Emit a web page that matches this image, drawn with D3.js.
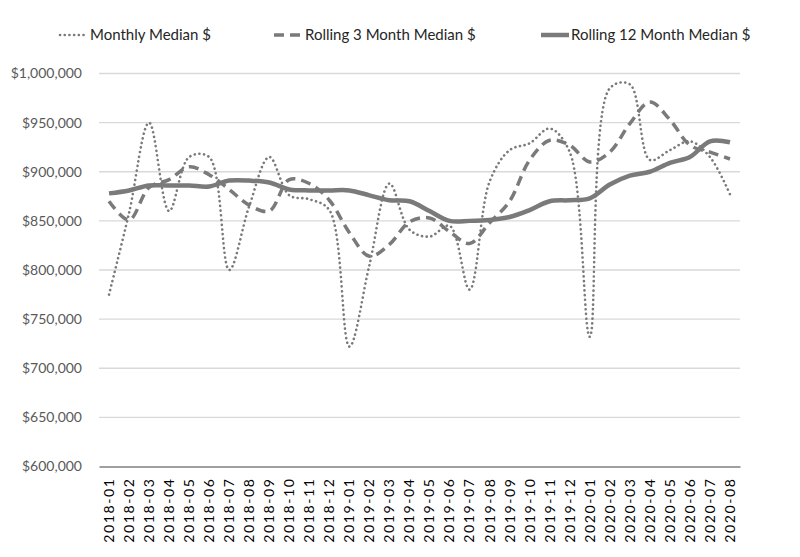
<!DOCTYPE html>
<html>
<head>
<meta charset="utf-8">
<script src="https://cdn.jsdelivr.net/npm/d3@7"></script>
<style>
  body { margin: 0; background: #fff; }
  svg text { font-family: Lato, "Open Sans", sans-serif; }
</style>
</head>
<body>
<div id="viz"></div>
<script>
const months = ["2018-01","2018-02","2018-03","2018-04","2018-05","2018-06","2018-07","2018-08",
  "2018-09","2018-10","2018-11","2018-12","2019-01","2019-02","2019-03","2019-04","2019-05",
  "2019-06","2019-07","2019-08","2019-09","2019-10","2019-11","2019-12","2020-01","2020-02",
  "2020-03","2020-04","2020-05","2020-06","2020-07","2020-08"];

const monthly = [775000, 858000, 950000, 860000, 915000, 915000, 800000, 865000,
  915000, 876000, 872000, 861000, 722000, 805000, 888000, 841000, 834000,
  845000, 780000, 890000, 922000, 929000, 944000, 920000, 732000, 985000,
  989000, 912000, 922000, 931000, 915000, 877000];

const rolling3 = [870000, 851000, 884000, 892000, 905000, 897000, 882000, 866000,
  860000, 892000, 888000, 871000, 838000, 814000, 826000, 849000, 853000,
  839000, 827000, 848000, 870000, 912000, 932000, 927000, 910000, 920000,
  949000, 971000, 953000, 927000, 920000, 913000];

const rolling12 = [878000, 881000, 886000, 886000, 886000, 885000, 891000, 891000,
  889000, 882000, 881000, 881000, 881000, 876000, 871000, 870000, 860000,
  850000, 850000, 851000, 854000, 861000, 870000, 871000, 873000, 887000,
  896000, 900000, 909000, 915000, 931000, 930000];

const yTicks = [600000, 650000, 700000, 750000, 800000, 850000, 900000, 950000, 1000000];

const series = [
  { name: "Monthly Median $", values: monthly, width: 2.6, dash: "0.1,4.6" },
  { name: "Rolling 3 Month Median $", values: rolling3, width: 3.5, dash: "10,6" },
  { name: "Rolling 12 Month Median $", values: rolling12, width: 4.5, dash: null }
];

const W = 800, H = 557;
const margin = { left: 99, right: 60, top: 73.5, bottom: 90.5 };
const innerW = W - margin.left - margin.right;
const innerH = H - margin.top - margin.bottom;
const lineColor = "#7a7a7a";

const svg = d3.select("#viz").append("svg").attr("width", W).attr("height", H);
const g = svg.append("g").attr("transform", `translate(${margin.left},${margin.top})`);

const x = d3.scaleBand().domain(months).range([0, innerW]);
const y = d3.scaleLinear().domain([600000, 1000000]).range([innerH, 0]);

// gridlines
g.selectAll(".grid").data(yTicks.slice(1)).join("line")
  .attr("x1", 0).attr("x2", innerW)
  .attr("y1", d => y(d)).attr("y2", d => y(d))
  .attr("stroke", "#d9d9d9").attr("stroke-width", 1.3);

// y axis labels
const fmt = d3.format("$,");
g.selectAll(".ylab").data(yTicks).join("text")
  .attr("x", -17).attr("y", d => y(d)).attr("dy", "0.35em")
  .attr("text-anchor", "end").attr("fill", "#595959").attr("font-size", 14)
  .text(d => fmt(d));

// x axis
const xAxis = g.append("g").attr("transform", `translate(0,${innerH})`)
  .call(d3.axisBottom(x).tickSize(0).tickPadding(0));
xAxis.select(".domain").attr("stroke", "#7f7f7f").attr("stroke-width", 1.3);
xAxis.selectAll("text")
  .attr("transform", "rotate(-90)")
  .attr("x", -11).attr("y", 0).attr("dy", "0.35em")
  .attr("text-anchor", "end")
  .attr("fill", "#000").attr("font-size", 14)
  .style("font-family", "Lato, sans-serif")
  .style("letter-spacing", "1.6px");

// lines
const line = d3.line()
  .x((d, i) => x(months[i]) + x.bandwidth() / 2)
  .y(d => y(d))
  .curve(d3.curveCatmullRom.alpha(0.5));

g.selectAll(".series").data(series).join("path")
  .attr("d", d => line(d.values))
  .attr("fill", "none")
  .attr("stroke", lineColor)
  .attr("stroke-width", d => d.width)
  .attr("stroke-dasharray", d => d.dash)
  .attr("stroke-linecap", d => d.dash && d.dash.startsWith("0") ? "round" : "butt")
  .attr("stroke-linejoin", "round");

// legend
const legendX = [60, 274, 541];
const leg = svg.append("g").attr("transform", "translate(0,35)");
const items = leg.selectAll("g").data(series).join("g")
  .attr("transform", (d, i) => `translate(${legendX[i]},0)`);
items.append("line")
  .attr("x1", 0).attr("x2", 28).attr("y1", 0).attr("y2", 0)
  .attr("stroke", lineColor)
  .attr("stroke-width", d => d.width)
  .attr("stroke-dasharray", d => d.dash)
  .attr("stroke-linecap", d => d.dash && d.dash.startsWith("0") ? "round" : "butt");
items.append("text")
  .attr("x", (d, i) => i === 1 ? 31 : 30).attr("y", 0).attr("dy", "0.35em")
  .attr("fill", "#262626").attr("font-size", 15)
  .text(d => d.name);
</script>
</body>
</html>
